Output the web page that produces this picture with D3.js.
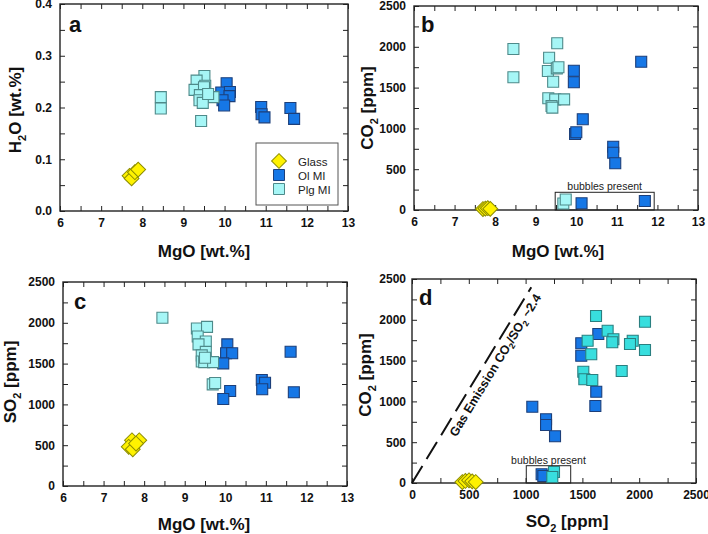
<!DOCTYPE html>
<html>
<head>
<meta charset="utf-8">
<script src="https://cdn.jsdelivr.net/npm/d3@7"></script>
<style>
  html, body { margin: 0; padding: 0; background: #fff; }
  svg { display: block; }
  text { font-family: "Liberation Sans", Arial, sans-serif; }
</style>
</head>
<body>
<svg id="chart" width="708" height="534"></svg>
<script>
// ---------------- DATA ----------------
// Panel a: MgO vs H2O
const glassA_mgo = [7.69, 7.74, 7.82, 7.90];
const glassA_h2o = [0.068, 0.063, 0.075, 0.080];
const olA_mgo = [10.05, 9.92, 10.13, 10.12, 9.95, 9.99, 10.89, 10.90, 10.97, 11.60, 11.69];
const olA_h2o = [0.247, 0.229, 0.230, 0.222, 0.214, 0.204, 0.201, 0.187, 0.181, 0.199, 0.178];
const plgA_mgo = [8.45, 8.45, 9.51, 9.32, 9.53, 9.27, 9.50, 9.40, 9.39, 9.73, 9.47, 9.43, 9.60];
const plgA_h2o = [0.220, 0.198, 0.261, 0.252, 0.242, 0.234, 0.239, 0.224, 0.214, 0.220, 0.209, 0.174, 0.226];

// Panel b: MgO vs CO2
const glassB_mgo = [7.70, 7.76, 7.82, 7.88];
const glassB_co2 = [12, 18, 22, 14];
const olB_mgo = [9.94, 9.94, 10.16, 9.97, 10.00, 10.91, 10.91, 10.96, 10.13, 11.69, 11.60];
const olB_co2 = [1707, 1565, 1113, 931, 952, 776, 702, 572, 82, 110, 1817];
const plgB_mgo = [8.45, 9.53, 9.33, 9.30, 9.52, 9.56, 9.43, 8.45, 9.31, 9.48, 9.70, 9.39, 9.41, 9.68, 9.74];
const plgB_co2 = [1973, 2043, 1866, 1703, 1736, 1749, 1572, 1626, 1369, 1356, 1356, 1275, 1255, 80, 128];

// Panel c: MgO vs SO2
const glassC_mgo = [7.70, 7.88, 7.62, 7.72, 7.80];
const glassC_so2 = [560, 560, 480, 450, 520];
const olC_mgo = [10.05, 10.02, 10.17, 9.95, 10.12, 9.95, 10.90, 10.98, 10.91, 11.61, 11.69];
const olC_so2 = [1736, 1626, 1626, 1503, 1164, 1066, 1299, 1266, 1185, 1646, 1148];
const plgC_mgo = [8.45, 9.30, 9.55, 9.32, 9.52, 9.34, 9.52, 9.42, 9.42, 9.48, 9.70, 9.69, 9.75, 9.50];
const plgC_so2 = [2062, 1930, 1950, 1832, 1771, 1736, 1644, 1601, 1526, 1518, 1518, 1246, 1262, 1572];

// Panel d: SO2 vs CO2
const glassD_so2 = [443, 470, 502, 530, 561];
const glassD_co2 = [12, 25, 33, 20, 12];
const olD_so2 = [1490, 1490, 1640, 1622, 1614, 1059, 1180, 1180, 1259, 1141, 1156];
const olD_co2 = [1712, 1560, 1826, 1119, 944, 935, 781, 711, 572, 107, 86];
const plgD_so2 = [1620, 2051, 1722, 1773, 1763, 1546, 1943, 1919, 2051, 1578, 1846, 1508, 1517, 1587, 1250, 1235];
const plgD_co2 = [2047, 1977, 1866, 1761, 1724, 1744, 1744, 1703, 1630, 1577, 1373, 1364, 1271, 1262, 135, 74];

// Gas emission line (SO2, CO2) end points
const gasLine_so2 = [0, 1050];
const gasLine_co2 = [0, 2400];

// "bubbles present" boxes [x0, x1, y0, y1]
const bubbleBoxB = [9.48, 11.92, 0, 217];
const bubbleBoxD = [1006, 1397, 0, 212];

// Axis ticks
const mgoTicks = [6, 7, 8, 9, 10, 11, 12, 13];
const h2oTicks = [0.0, 0.1, 0.2, 0.3, 0.4];
const ppmTicks = [0, 500, 1000, 1500, 2000, 2500];
const legendLabels = ["Glass", "Ol MI", "Plg MI"];

// ---------------- STYLE ----------------
const C = {
  glassFill: "#FFF200", glassStroke: "#8C8C00",
  olFill: "#1677E6", olStroke: "#1C3F7A",
  plgFill: "#A6F6F6", plgStroke: "#4E8A8A",
  plgFillD: "#38DEDE", plgStrokeD: "#2A7F80"
};

const svg = d3.select("#chart");
const zip = (a, b) => a.map((v, i) => [v, b[i]]);

function panel(cfg) {
  const g = svg.append("g");
  const x = d3.scaleLinear().domain(cfg.xDomain).range([cfg.left, cfg.right]);
  const y = d3.scaleLinear().domain(cfg.yDomain).range([cfg.bottom, cfg.top]);

  const labelStyle = sel => sel.selectAll("text")
    .attr("font-family", "'Liberation Sans', Arial, sans-serif")
    .attr("font-size", 12).attr("font-weight", "bold").attr("fill", "#111");

  const xt = d3.range(cfg.xDomain[0], cfg.xDomain[1] + 1e-9, cfg.xMinor);
  const yt = d3.range(cfg.yDomain[0], cfg.yDomain[1] + 1e-9, cfg.yMinor);
  const isIn = (arr, v) => arr.some(t => Math.abs(t - v) < 1e-9);

  g.append("g").attr("transform", `translate(0,${cfg.bottom})`)
    .call(d3.axisBottom(x).tickValues(xt).tickSize(-5).tickSizeOuter(0).tickPadding(7)
      .tickFormat(v => isIn(cfg.xLabels, v) ? cfg.xFmt(v) : ""))
    .call(labelStyle);
  g.append("g").attr("transform", `translate(0,${cfg.top})`)
    .call(d3.axisTop(x).tickValues(xt).tickSize(-5).tickSizeOuter(0).tickFormat(""));
  g.append("g").attr("transform", `translate(${cfg.left},0)`)
    .call(d3.axisLeft(y).tickValues(yt).tickSize(-5).tickSizeOuter(0).tickPadding(cfg.yPad)
      .tickFormat(v => isIn(cfg.yLabels, v) ? cfg.yFmt(v) : ""))
    .call(labelStyle);
  g.append("g").attr("transform", `translate(${cfg.right},0)`)
    .call(d3.axisRight(y).tickValues(yt).tickSize(-5).tickSizeOuter(0).tickFormat(""));

  g.selectAll(".domain").attr("stroke", "none");
  g.selectAll(".tick line").attr("stroke", "#222").attr("stroke-width", 1);

  g.append("rect")
    .attr("x", cfg.left).attr("y", cfg.top)
    .attr("width", cfg.right - cfg.left).attr("height", cfg.bottom - cfg.top)
    .attr("fill", "none").attr("stroke", "#222").attr("stroke-width", 1.4);

  g.append("text").attr("x", cfg.letterX).attr("y", cfg.letterY)
    .attr("font-size", 22).attr("font-weight", "bold").attr("fill", "#111").text(cfg.letter);

  const xt2 = g.append("text").attr("x", cfg.xTitleX).attr("y", cfg.xTitleY)
    .attr("text-anchor", "middle").attr("font-size", 17).attr("font-weight", "bold").attr("fill", "#111");
  cfg.xTitle.forEach(p => {
    const s = xt2.append("tspan").text(p.t);
    if (p.sub) s.attr("font-size", 11).attr("dy", 5);
    if (p.after) s.attr("dy", -5);
  });
  const yt2 = g.append("text")
    .attr("transform", `translate(${cfg.yTitleX},${cfg.yTitleY}) rotate(-90)`)
    .attr("text-anchor", "middle").attr("font-size", 17).attr("font-weight", "bold").attr("fill", "#111");
  cfg.yTitle.forEach(p => {
    const s = yt2.append("tspan").text(p.t);
    if (p.sub) s.attr("font-size", 11).attr("dy", 5);
    if (p.after) s.attr("dy", -5);
  });

  return { g, x, y };
}

const sq = d3.symbol().type(d3.symbolSquare).size(121);
const dia = d3.symbol().type(d3.symbolSquare).size(110);

function drawGlass(p, xs, ys) {
  p.g.append("g").selectAll("path").data(zip(xs, ys)).join("path")
    .attr("d", dia)
    .attr("transform", d => `translate(${p.x(d[0])},${p.y(d[1])}) rotate(45)`)
    .attr("fill", C.glassFill).attr("stroke", C.glassStroke).attr("stroke-width", 1);
}
function drawSquares(p, xs, ys, fill, stroke) {
  p.g.append("g").selectAll("path").data(zip(xs, ys)).join("path")
    .attr("d", sq)
    .attr("transform", d => `translate(${p.x(d[0])},${p.y(d[1])})`)
    .attr("fill", fill).attr("stroke", stroke).attr("stroke-width", 1.1);
}
function drawBubbleBox(p, box) {
  p.g.append("rect")
    .attr("x", p.x(box[0])).attr("y", p.y(box[3]))
    .attr("width", p.x(box[1]) - p.x(box[0])).attr("height", p.y(box[2]) - p.y(box[3]))
    .attr("fill", "none").attr("stroke", "#222").attr("stroke-width", 1);
  p.g.append("text")
    .attr("x", (p.x(box[0]) + p.x(box[1])) / 2).attr("y", p.y(box[3]) - 2)
    .attr("text-anchor", "middle").attr("font-size", 10.5).attr("fill", "#222")
    .text("bubbles present");
}

const fmtInt = d3.format("d");
const fmt1 = d3.format(".1f");

// ---------- Panel a ----------
const pa = panel({
  left: 60, right: 348, top: 4, bottom: 211,
  xDomain: [6, 13], yDomain: [0, 0.4], xMinor: 0.5, yMinor: 0.05,
  xLabels: mgoTicks, yLabels: h2oTicks, xFmt: fmtInt, yFmt: fmt1, yPad: 8,
  letter: "a", letterX: 69, letterY: 32,
  xTitleX: 204, xTitleY: 257, xTitle: [{ t: "MgO [wt.%]" }],
  yTitleX: 21, yTitleY: 110, yTitle: [{ t: "H" }, { t: "2", sub: true }, { t: "O [wt.%]", after: true }]
});
drawGlass(pa, glassA_mgo, glassA_h2o);
drawSquares(pa, olA_mgo, olA_h2o, C.olFill, C.olStroke);
drawSquares(pa, plgA_mgo, plgA_h2o, C.plgFill, C.plgStroke);

const lg = pa.g.append("g");
lg.append("rect").attr("x", 256).attr("y", 143).attr("width", 82).attr("height", 62)
  .attr("fill", "#fff").attr("stroke", "#555").attr("stroke-width", 1);
const legY = [161, 175, 189];
lg.append("path").attr("d", dia).attr("transform", `translate(279,${legY[0]}) rotate(45)`)
  .attr("fill", C.glassFill).attr("stroke", C.glassStroke);
lg.append("path").attr("d", sq).attr("transform", `translate(279,${legY[1]})`)
  .attr("fill", C.olFill).attr("stroke", C.olStroke);
lg.append("path").attr("d", sq).attr("transform", `translate(279,${legY[2]})`)
  .attr("fill", C.plgFill).attr("stroke", C.plgStroke);
legendLabels.forEach((t, i) => {
  lg.append("text").attr("x", 298).attr("y", legY[i] + 4.5)
    .attr("font-family", "'Open Sans', sans-serif").attr("font-size", 11.5).attr("fill", "#222").text(t);
});

// ---------- Panel b ----------
const pb = panel({
  left: 414, right: 698, top: 6, bottom: 210,
  xDomain: [6, 13], yDomain: [0, 2500], xMinor: 0.5, yMinor: 250,
  xLabels: mgoTicks, yLabels: ppmTicks, xFmt: fmtInt, yFmt: fmtInt, yPad: 8,
  letter: "b", letterX: 421, letterY: 32,
  xTitleX: 558, xTitleY: 257, xTitle: [{ t: "MgO [wt.%]" }],
  yTitleX: 373, yTitleY: 108, yTitle: [{ t: "CO" }, { t: "2", sub: true }, { t: " [ppm]", after: true }]
});
drawBubbleBox(pb, bubbleBoxB);
drawGlass(pb, glassB_mgo, glassB_co2);
drawSquares(pb, olB_mgo, olB_co2, C.olFill, C.olStroke);
drawSquares(pb, plgB_mgo, plgB_co2, C.plgFill, C.plgStroke);

// ---------- Panel c ----------
const pc = panel({
  left: 63, right: 347, top: 282, bottom: 486,
  xDomain: [6, 13], yDomain: [0, 2500], xMinor: 0.5, yMinor: 250,
  xLabels: mgoTicks, yLabels: ppmTicks, xFmt: fmtInt, yFmt: fmtInt, yPad: 8,
  letter: "c", letterX: 74, letterY: 309,
  xTitleX: 204, xTitleY: 530, xTitle: [{ t: "MgO [wt.%]" }],
  yTitleX: 16, yTitleY: 382, yTitle: [{ t: "SO" }, { t: "2", sub: true }, { t: " [ppm]", after: true }]
});
drawGlass(pc, glassC_mgo, glassC_so2);
drawSquares(pc, olC_mgo, olC_so2, C.olFill, C.olStroke);
drawSquares(pc, plgC_mgo, plgC_so2, C.plgFill, C.plgStroke);

// ---------- Panel d ----------
const pd = panel({
  left: 412, right: 696, top: 279, bottom: 483,
  xDomain: [0, 2500], yDomain: [0, 2500], xMinor: 250, yMinor: 250,
  xLabels: ppmTicks, yLabels: ppmTicks, xFmt: fmtInt, yFmt: fmtInt, yPad: 6,
  letter: "d", letterX: 419, letterY: 305,
  xTitleX: 567, xTitleY: 527, xTitle: [{ t: "SO" }, { t: "2", sub: true }, { t: " [ppm]", after: true }],
  yTitleX: 371, yTitleY: 375, yTitle: [{ t: "CO" }, { t: "2", sub: true }, { t: " [ppm]", after: true }]
});
const gl = zip(gasLine_so2, gasLine_co2);
pd.g.append("path")
  .attr("d", d3.line().x(d => pd.x(d[0])).y(d => pd.y(d[1]))(gl))
  .attr("fill", "none").attr("stroke", "#111").attr("stroke-width", 2)
  .attr("stroke-dasharray", "20,8");
{
  const x0 = pd.x(gl[0][0]), y0 = pd.y(gl[0][1]);
  const x1 = pd.x(gl[1][0]), y1 = pd.y(gl[1][1]);
  const ang = Math.atan2(y1 - y0, x1 - x0) * 180 / Math.PI;
  const len = Math.hypot(x1 - x0, y1 - y0);
  const t = pd.g.append("text")
    .attr("transform", `translate(${x0},${y0}) rotate(${ang})`)
    .attr("x", len * 0.27).attr("y", 14)
    .attr("font-size", 12.5).attr("font-weight", "bold").attr("fill", "#111");
  t.append("tspan").text("Gas Emission CO");
  t.append("tspan").text("2").attr("font-size", 8.5).attr("dy", 3);
  t.append("tspan").text("/SO").attr("dy", -3);
  t.append("tspan").text("2").attr("font-size", 8.5).attr("dy", 3);
  t.append("tspan").text(" ~2.4").attr("dy", -3);
}
drawBubbleBox(pd, bubbleBoxD);
drawGlass(pd, glassD_so2, glassD_co2);
drawSquares(pd, olD_so2, olD_co2, C.olFill, C.olStroke);
drawSquares(pd, plgD_so2, plgD_co2, C.plgFillD, C.plgStrokeD);
</script>
</body>
</html>
